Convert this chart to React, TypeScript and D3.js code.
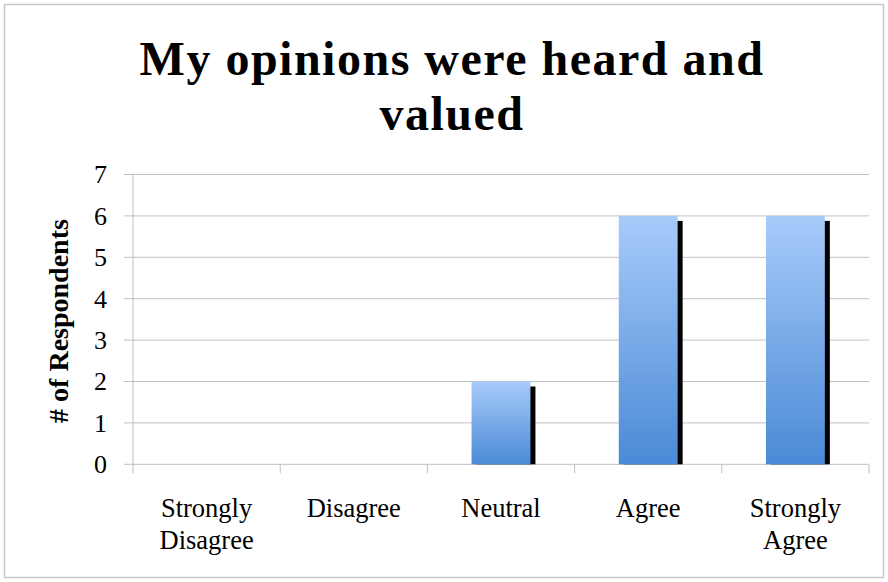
import React from "react";
import * as d3 from "d3";

const categories: string[][] = [["Strongly", "Disagree"], ["Disagree"], ["Neutral"], ["Agree"], ["Strongly", "Agree"]];
const values: number[] = [0, 0, 2, 6, 6];
const yTicks: number[] = [0, 1, 2, 3, 4, 5, 6, 7];
const titleLines: string[] = ["My opinions were heard and", "valued"];
const yLabel = "# of Respondents";

const W = 888, H = 582;
const left = 133, right = 869, top = 174.5, bottom = 464.3;

export default function App() {
  const x = d3.scaleBand<number>().domain(values.map((_, i) => i)).range([left, right]).paddingInner(0.6).paddingOuter(0.3);
  const y = d3.scaleLinear().domain([0, 7]).range([bottom, top]);
  const step = x.step();
  const serif = "'Liberation Serif', serif";
  return (
    <svg width={W} height={H} style={{ position: "absolute", left: 0, top: 0, background: "#fff" }}>
      <defs>
        <linearGradient id="barGrad" x1="0" y1="0" x2="0" y2="1">
          <stop offset="0%" stopColor="#a8cbfa" />
          <stop offset="100%" stopColor="#4a8ad6" />
        </linearGradient>
        <filter id="blur1" x="-50%" y="-10%" width="200%" height="120%">
          <feGaussianBlur stdDeviation="0.6" />
        </filter>
      </defs>
      <rect x={4.5} y={4.5} width={W - 9} height={H - 9} fill="#fff" stroke="#c8c8c8" strokeWidth={1.5} />
      {titleLines.map((t, i) => (
        <text key={i} x={452} y={75 + i * 55} textAnchor="middle" fontFamily={serif} fontWeight="bold" fontSize={48} letterSpacing={1.5} fill="#000">{t}</text>
      ))}
      {yTicks.map((v) => (
        <g key={v}>
          <line x1={left - 9} x2={right} y1={y(v)} y2={y(v)} stroke="#c0c0c0" strokeWidth={1} />
          <text x={107} y={y(v)} dy="0.34em" textAnchor="end" fontFamily={serif} fontSize={26} fill="#000">{v}</text>
        </g>
      ))}
      <line x1={left} x2={left} y1={top} y2={bottom + 9} stroke="#c0c0c0" strokeWidth={1} />
      {values.map((_, i) => (
        <line key={i} x1={left + step * (i + 1)} x2={left + step * (i + 1)} y1={bottom} y2={bottom + 9} stroke="#c0c0c0" strokeWidth={1} />
      ))}
      {values.map((v, i) => {
        if (v <= 0) return null;
        const bx = x(i)!;
        const bw = x.bandwidth();
        const by = y(v);
        const bh = bottom - by;
        return (
          <g key={i}>
            <rect x={bx + 5} y={by + 5} width={bw} height={Math.max(0, bh - 5)} fill="#000" filter="url(#blur1)" />
            <rect x={bx} y={by} width={bw} height={bh} fill="url(#barGrad)" />
          </g>
        );
      })}
      {categories.map((lines, i) => (
        <text key={i} x={x(i)! + x.bandwidth() / 2} y={516.5} textAnchor="middle" fontFamily={serif} fontSize={26.5} fill="#000">
          {lines.map((l, j) => (
            <tspan key={j} x={x(i)! + x.bandwidth() / 2} dy={j === 0 ? 0 : 32}>{l}</tspan>
          ))}
        </text>
      ))}
      <text transform={`translate(68, 321) rotate(-90)`} textAnchor="middle" fontFamily={serif} fontWeight="bold" fontSize={28} fill="#000">{yLabel}</text>
    </svg>
  );
}
